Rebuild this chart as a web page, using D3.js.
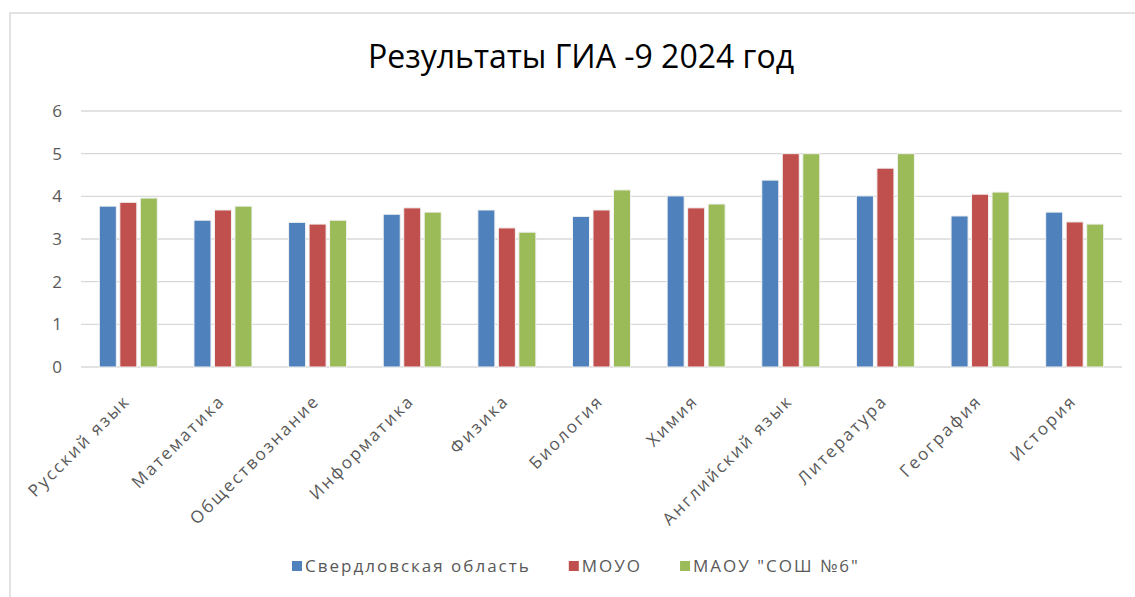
<!DOCTYPE html>
<html>
<head>
<meta charset="utf-8">
<script src="https://d3js.org/d3.v7.min.js"></script>
<style>
    body { margin: 0; background: #fff; }
    svg { display: block; font-family: "Open Sans", sans-serif; }
    .grid line { stroke: #d9d9d9; stroke-width: 1.3; }
    .ylab text { fill: #595959; font-size: 17px; }
    .xlab text { fill: #595959; font-size: 17px; letter-spacing: 2.2px; }
    .legend text { fill: #595959; font-size: 17px; letter-spacing: 2px; }
</style>
</head>
<body>
<svg width="1135" height="597"></svg>
<script>
    // subjects and average marks
    const subjects = ['Русский язык', 'Математика', 'Обществознание', 'Информатика', 'Физика',
        'Биология', 'Химия', 'Английский язык', 'Литература', 'География', 'История'];
    const seriesNames = ['Свердловская область', 'МОУО', 'МАОУ "СОШ №6"'];
    const oblast = [3.77, 3.44, 3.39, 3.58, 3.68, 3.53, 4.01, 4.38, 4.01, 3.54, 3.63];
    const moyo   = [3.86, 3.68, 3.35, 3.73, 3.26, 3.68, 3.73, 5.00, 4.66, 4.05, 3.40];
    const sosh6  = [3.96, 3.77, 3.44, 3.63, 3.16, 4.15, 3.82, 5.00, 5.00, 4.10, 3.35];
    const yTicks = [0, 1, 2, 3, 4, 5, 6];
    const colors = ['#4f81bd', '#c0504d', '#9bbb59'];
    const title = 'Результаты ГИА -9 2024 год';

    const values = [oblast, moyo, sosh6];
    const svg = d3.select('svg');

    // outer frame (chart area runs off the right and bottom)
    svg.append('rect')
        .attr('x', 10).attr('y', 13)
        .attr('width', 1300).attr('height', 700)
        .attr('fill', 'none').attr('stroke', '#d9d9d9').attr('stroke-width', 1.5);

    const plotL = 81, plotR = 1122, plotT = 111, plotB = 367;

    const x0 = d3.scaleBand().domain(subjects).range([plotL, plotR]).padding(0);
    const groupW = 58;
    const x1 = d3.scaleBand().domain(d3.range(3)).range([0, groupW]).paddingInner(0.17);
    const y = d3.scaleLinear().domain([0, 6]).range([plotB, plotT]);

    // gridlines
    svg.append('g').attr('class', 'grid')
        .selectAll('line').data(yTicks).join('line')
        .attr('x1', plotL).attr('x2', plotR)
        .attr('y1', d => y(d)).attr('y2', d => y(d));

    // y labels
    svg.append('g').attr('class', 'ylab')
        .selectAll('text').data(yTicks).join('text')
        .attr('x', 62).attr('y', d => y(d))
        .attr('dy', '0.36em')
        .attr('text-anchor', 'end')
        .text(d => d);

    // bars
    const groups = svg.append('g').selectAll('g').data(subjects).join('g')
        .attr('transform', d => `translate(${x0(d) + (x0.bandwidth() - groupW) / 2},0)`);

    groups.selectAll('rect')
        .data((d, i) => values.map((s, k) => ({ k: k, v: s[i] })))
        .join('rect')
        .attr('x', d => x1(d.k))
        .attr('width', x1.bandwidth())
        .attr('y', d => y(d.v))
        .attr('height', d => y(0) - y(d.v))
        .attr('fill', d => colors[d.k])
        .attr('stroke', '#f2f2f2')
        .attr('stroke-width', 1);

    // category labels, rotated
    svg.append('g').attr('class', 'xlab')
        .selectAll('text').data(subjects).join('text')
        .attr('text-anchor', 'end')
        .attr('transform', d => `translate(${x0(d) + x0.bandwidth() / 2 + 3},${plotB + 35}) rotate(-45)`)
        .text(d => d);

    // title
    svg.append('text')
        .attr('x', 581).attr('y', 68)
        .attr('text-anchor', 'middle')
        .attr('fill', '#000')
        .style('font-size', '32px')
        .text(title);

    // legend
    const legend = svg.append('g').attr('class', 'legend');
    let lx = 292;
    seriesNames.forEach((name, k) => {
        legend.append('rect')
            .attr('x', lx).attr('y', 561)
            .attr('width', 10).attr('height', 10)
            .attr('fill', colors[k]);
        const t = legend.append('text')
            .attr('x', lx + 13).attr('y', 566)
            .attr('dy', '0.36em')
            .text(name);
        lx += 13 + t.node().getComputedTextLength() + 38;
    });
</script>
</body>
</html>
